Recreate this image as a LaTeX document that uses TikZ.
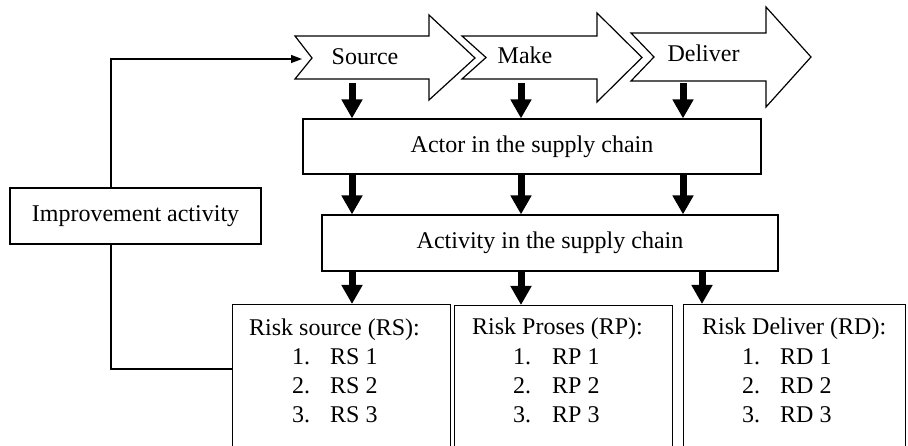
\documentclass[tikz,border=0pt]{standalone}
\usepackage{fontspec}
\setmainfont{Liberation Serif}
\usetikzlibrary{arrows.meta}
\begin{document}
\begin{tikzpicture}[x=1pt,y=-1pt,
  box/.style={draw,line width=1.2pt,inner sep=0pt,font=\fontsize{24}{29}\selectfont},
  txt/.style={inner sep=0pt,font=\fontsize{24}{29}\selectfont},
  chev/.style={draw,fill=white,line width=1.2pt,line join=miter},
  bigarrow/.style={line width=7pt,-{Triangle[length=19pt,width=20pt]}},
  thinline/.style={line width=1.2pt},
  thinarrow/.style={thinline,-{Triangle[length=11pt,width=8pt]}}]
\useasboundingbox (0,0) rectangle (908,446);
\clip (0,0) rectangle (908,446);
\fill[white] (0,0) rectangle (908,446);

% chevrons
\draw[chev] (295,36) -- (429,36) -- (429,15) -- (475,58) -- (429,100) -- (429,79) -- (295,79) -- (312,58) -- cycle;
\draw[chev] (462,36) -- (597,36) -- (597,13) -- (642,57.5) -- (597,102) -- (597,79) -- (462,79) -- (486,57.5) -- cycle;
\draw[chev] (631,33) -- (766,33) -- (766,7) -- (811,57) -- (766,107) -- (766,81) -- (631,81) -- (654,57) -- cycle;
\node[txt,anchor=base] (src) at (365,65) {Source};
\node[txt,anchor=base] (mk) at (525,64) {Make};
\node[txt,anchor=base] (dl) at (703.5,62) {Deliver};

% boxes
\node[box,minimum width=251pt,minimum height=56pt] (imp) at (135.5,216) {Improvement activity};
\node[box,minimum width=458pt,minimum height=55pt] (actor) at (532,146.5) {Actor in the supply chain};
\node[box,minimum width=456pt,minimum height=56pt] (activity) at (550,243) {Activity in the supply chain};
\node[box,anchor=north west,minimum width=218pt,minimum height=170pt] (rs) at (232,304) {};
\node[box,anchor=north west,minimum width=218pt,minimum height=170pt] (rp) at (454,305) {};
\node[box,anchor=north west,minimum width=222pt,minimum height=170pt] (rd) at (683,304) {};

% box texts
\node[txt,anchor=base west] (rsh) at (249,336) {Risk source (RS):};
\node[txt,anchor=base west] (rph) at (472,335) {Risk Proses (RP):};
\node[txt,anchor=base west] (rdh) at (702,335) {Risk Deliver (RD):};
\foreach \i/\y in {1/365,2/393.5,3/422}{
  \node[txt,anchor=base west] (rsn\i) at (292,\y) {\i.};
  \node[txt,anchor=base west] (rsi\i) at (330,\y) {RS \i};
  \node[txt,anchor=base west] (rpn\i) at (513,\y) {\i.};
  \node[txt,anchor=base west] (rpi\i) at (552,\y) {RP \i};
  \node[txt,anchor=base west] (rdn\i) at (742,\y) {\i.};
  \node[txt,anchor=base west] (rdi\i) at (780,\y) {RD \i};
}

% connectors
\coordinate (c1) at (352,83);
\coordinate (c2) at (521,83);
\coordinate (c3) at (683,83);
\coordinate (d3) at (702,0);
\draw[bigarrow] (c1) -- (c1 |- actor.north);
\draw[bigarrow] (c2) -- (c2 |- actor.north);
\draw[bigarrow] (c3) -- (c3 |- actor.north);
\draw[bigarrow] (actor.south -| c1) -- (activity.north -| c1);
\draw[bigarrow] (actor.south -| c2) -- (activity.north -| c2);
\draw[bigarrow] (actor.south -| c3) -- (activity.north -| c3);
\draw[bigarrow] (activity.south -| c1) -- (rs.north -| c1);
\draw[bigarrow] (activity.south -| c2) -- (rp.north -| c2);
\draw[bigarrow] (activity.south -| d3) -- (rd.north -| d3);

\coordinate (fbx) at (111,0);
\coordinate (fby) at (0,369);
\coordinate (srcin) at (302,59);
\draw[thinarrow] (imp.north -| fbx) |- (srcin);
\draw[thinline] (imp.south -| fbx) |- (rs.west |- fby);
\end{tikzpicture}
\end{document}
